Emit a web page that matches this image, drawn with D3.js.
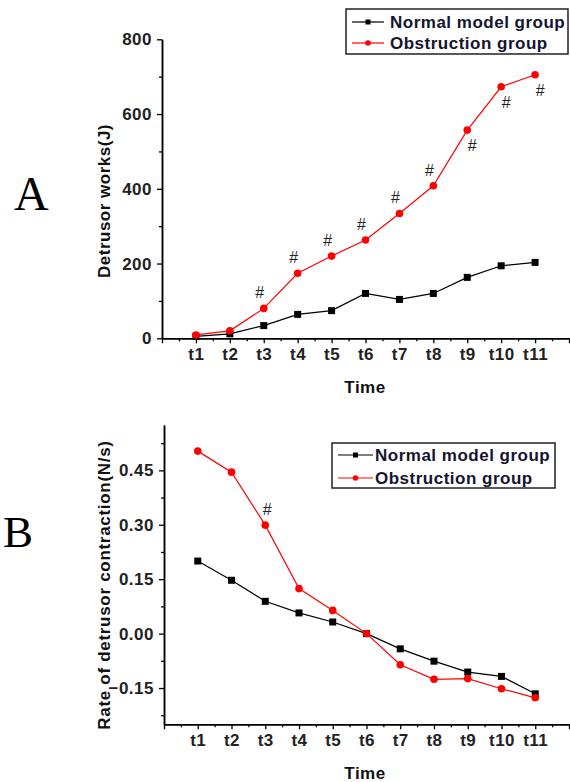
<!DOCTYPE html>
<html>
<head>
<meta charset="utf-8">
<script src="https://cdn.jsdelivr.net/npm/d3@7"></script>
<style>
  body { margin: 0; background: #fff; }
  svg { display: block; font-family: Arial, "Liberation Sans", sans-serif; }
  .tick-label { font-size: 17px; font-weight: bold; letter-spacing: 0.5px; fill: #222; }
  .axis-title { font-size: 17px; font-weight: bold; letter-spacing: 0.5px; fill: #111; }
  .legend-text { font-size: 17px; font-weight: bold; letter-spacing: 0.5px; fill: #141430; }
  .sig { font-size: 16px; fill: #222; }
  .panel-letter { font-family: "Times New Roman", "Liberation Serif", serif; fill: #000; }
</style>
</head>
<body>
<div id="chart"></div>
<script>
const timeLabels = ["t1", "t2", "t3", "t4", "t5", "t6", "t7", "t8", "t9", "t10", "t11"];
const seriesNames = ["Normal model group", "Obstruction group"];

// panel A: detrusor works (J)
const worksNormal = [5, 12, 34, 64, 74, 120, 104, 120, 163, 194, 203];
const worksObstruction = [9, 20, 80, 174, 220, 263, 334, 408, 557, 673, 705];
const worksTicks = [0, 200, 400, 600, 800];
const worksMinorTicks = [100, 300, 500, 700];
const worksSigAbove = ["t3", "t4", "t5", "t6", "t7", "t8"];
const worksSigBelow = ["t9", "t10", "t11"];

// panel B: rate of detrusor contraction (N/s)
const rateNormal = [0.20, 0.147, 0.089, 0.057, 0.032, 0.0, -0.042, -0.076, -0.106, -0.118, -0.166];
const rateObstruction = [0.503, 0.445, 0.299, 0.124, 0.064, 0.0, -0.086, -0.126, -0.124, -0.152, -0.177];
const rateTicks = [-0.15, 0, 0.15, 0.30, 0.45];
const rateMinorTicks = [-0.225, -0.075, 0.075, 0.225, 0.375, 0.525];
const rateSigAbove = ["t3"];
const rateSigBelow = [];

const colors = ["#000000", "#ff0000"];
const width = 570, height = 782;

const svg = d3.select("#chart").append("svg")
  .attr("width", width)
  .attr("height", height);

function drawPanel(p) {
  const g = svg.append("g");

  const x = d3.scaleLinear().domain([0, 12]).range(p.xRange);
  const y = d3.scaleLinear().domain(p.yDomain).range(p.yRange);
  const xOf = (label) => x(timeLabels.indexOf(label) + 1);

  // minor ticks first, then major axes
  g.append("g")
    .attr("transform", `translate(0,${p.yRange[0]})`)
    .call(d3.axisBottom(x).tickValues(d3.range(0.5, 12, 1)).tickSize(3).tickSizeOuter(0).tickFormat(""));
  g.append("g")
    .attr("transform", `translate(${p.xRange[0]},0)`)
    .call(d3.axisLeft(y).tickValues(p.minorTicks).tickSize(3).tickSizeOuter(0).tickFormat(""));

  g.append("g")
    .attr("transform", `translate(0,${p.yRange[0]})`)
    .call(d3.axisBottom(x).tickValues(d3.range(0, 13)).tickSize(5).tickPadding(5).tickSizeOuter(0)
      .tickFormat((i) => timeLabels[i - 1] ?? ""));
  g.append("g")
    .attr("transform", `translate(${p.xRange[0]},0)`)
    .call(d3.axisLeft(y).tickValues(p.ticks).tickSize(5).tickPadding(5).tickSizeOuter(0)
      .tickFormat(p.format));

  g.selectAll(".domain").attr("stroke", "#000").attr("stroke-width", 1.5);
  g.selectAll(".tick line").attr("stroke", "#000").attr("stroke-width", 1.3);
  g.selectAll(".tick text").attr("class", "tick-label");
  g.selectAll("g").attr("font-size", null).attr("font-family", null);

  // axis titles
  g.append("text")
    .attr("class", "axis-title")
    .attr("x", 365)
    .attr("y", p.xTitleY)
    .attr("text-anchor", "middle")
    .text("Time");

  g.append("text")
    .attr("class", "axis-title")
    .attr("transform", `translate(110,${p.yTitleCenter}) rotate(-90)`)
    .attr("text-anchor", "middle")
    .style("letter-spacing", p.yTitleSpacing)
    .text(p.yTitle);

  // panel letter
  g.append("text")
    .attr("class", "panel-letter")
    .attr("x", p.letterPos[0])
    .attr("y", p.letterPos[1])
    .attr("font-size", p.letterSize)
    .text(p.letter);

  const line = d3.line()
    .x((d, i) => x(i + 1))
    .y((d) => y(d));

  p.series.forEach((values, s) => {
    g.append("path")
      .datum(values)
      .attr("fill", "none")
      .attr("stroke", colors[s])
      .attr("stroke-width", 1.2)
      .attr("d", line);

    if (s === 0) {
      g.selectAll(null)
        .data(values)
        .join("rect")
        .attr("x", (d, i) => x(i + 1) - 3.5)
        .attr("y", (d) => y(d) - 3.5)
        .attr("width", 7)
        .attr("height", 7)
        .attr("fill", colors[s]);
    } else {
      g.selectAll(null)
        .data(values)
        .join("circle")
        .attr("cx", (d, i) => x(i + 1))
        .attr("cy", (d) => y(d))
        .attr("r", 3.8)
        .attr("fill", colors[s]);
    }
  });

  // significance marks on the obstruction group
  const obs = p.series[1];
  g.selectAll(null)
    .data(p.sigAbove)
    .join("text")
    .attr("class", "sig")
    .attr("x", (d) => xOf(d) + p.sigAboveDx)
    .attr("y", (d) => y(obs[timeLabels.indexOf(d)]) - 10)
    .attr("text-anchor", "middle")
    .text("#");
  g.selectAll(null)
    .data(p.sigBelow)
    .join("text")
    .attr("class", "sig")
    .attr("x", (d) => xOf(d) + 5)
    .attr("y", (d) => y(obs[timeLabels.indexOf(d)]) + 21)
    .attr("text-anchor", "middle")
    .text("#");

  // legend
  const lg = g.append("g").attr("transform", `translate(${p.legend.x},${p.legend.y})`);
  lg.append("rect")
    .attr("width", p.legend.w)
    .attr("height", p.legend.h)
    .attr("fill", "#fff")
    .attr("stroke", "#222")
    .attr("stroke-width", 1.5);

  seriesNames.forEach((name, s) => {
    const row = lg.append("g").attr("transform", `translate(0,${p.legend.rows[s]})`);
    row.append("line")
      .attr("x1", p.legend.line[0])
      .attr("x2", p.legend.line[1])
      .attr("stroke", colors[s])
      .attr("stroke-width", 1.2);
    const mid = (p.legend.line[0] + p.legend.line[1]) / 2;
    if (s === 0) {
      row.append("rect").attr("x", mid - 2.5).attr("y", -2.5).attr("width", 5).attr("height", 5).attr("fill", colors[s]);
    } else {
      row.append("circle").attr("cx", mid).attr("cy", 0).attr("r", 2.8).attr("fill", colors[s]);
    }
    row.append("text")
      .attr("class", "legend-text")
      .attr("x", p.legend.textX)
      .attr("y", 0)
      .attr("dy", "0.35em")
      .text(name);
  });
}

drawPanel({
  series: [worksNormal, worksObstruction],
  xRange: [162, 569],
  yDomain: [0, 800],
  yRange: [338.3, 39.3],
  ticks: worksTicks,
  minorTicks: worksMinorTicks,
  format: d3.format("d"),
  xTitleY: 393,
  yTitle: "Detrusor works(J)",
  yTitleCenter: 201,
  yTitleSpacing: "0.5px",
  letter: "A",
  letterPos: [14, 210],
  letterSize: 48,
  sigAbove: worksSigAbove,
  sigBelow: worksSigBelow,
  sigAboveDx: -4,
  legend: { x: 346, y: 9, w: 222, h: 45, rows: [13, 34], line: [6, 38], textX: 44 }
});

drawPanel({
  series: [rateNormal, rateObstruction],
  xRange: [164, 569],
  yDomain: [-0.25, 0.575],
  yRange: [724.3, 425],
  ticks: rateTicks,
  minorTicks: rateMinorTicks,
  format: d3.format(".2f"),
  xTitleY: 779,
  yTitle: "Rate of detrusor contraction(N/s)",
  yTitleCenter: 585,
  yTitleSpacing: "0.7px",
  letter: "B",
  letterPos: [3, 547],
  letterSize: 45,
  sigAbove: rateSigAbove,
  sigBelow: rateSigBelow,
  sigAboveDx: 2,
  legend: { x: 332, y: 443, w: 223, h: 45, rows: [12, 35], line: [6, 41], textX: 43 }
});
</script>
</body>
</html>
